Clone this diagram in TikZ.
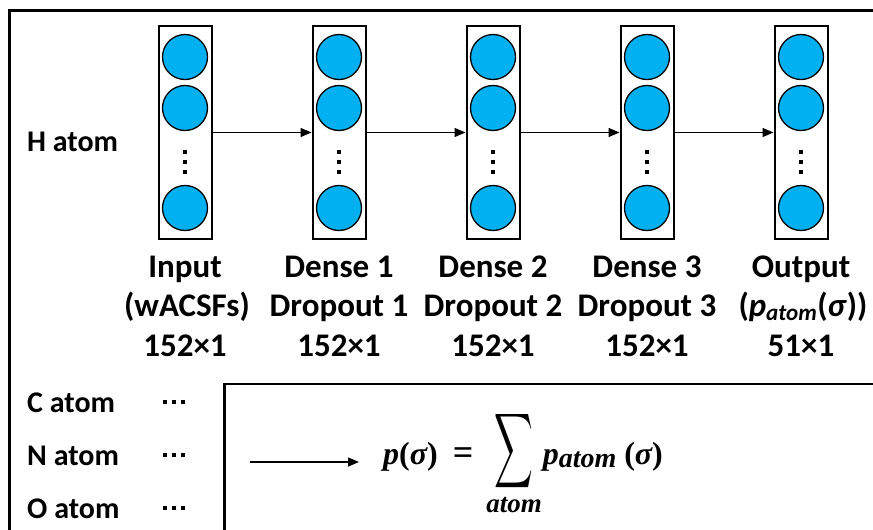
\RequirePackage{fix-cm}
\documentclass[tikz,border=0pt]{standalone}
\usepackage{fontspec}
\setmainfont{Carlito}
\newfontfamily\formfont{Liberation Serif}
\usepackage{amsmath}
\usepackage{graphicx}
\usetikzlibrary{arrows.meta}
\definecolor{nnblue}{HTML}{00B0F0}
\newcommand{\fbi}[1]{{\formfont\bfseries\itshape #1}}
\newcommand{\fbu}[1]{{\formfont\bfseries #1}}
\newsavebox{\bigsumbox}
\begin{document}
\sbox{\bigsumbox}{\fontsize{30}{34}\selectfont\scalebox{1.08}[2.1]{$\displaystyle\sum$}}
\begin{tikzpicture}[x=1pt,y=-1pt,
  frame/.style={line width=2.4pt},
  layerbox/.style={draw, line width=2pt, minimum width=53pt, minimum height=213pt, inner sep=0pt},
  neuron/.style={circle, draw, fill=nnblue, line width=1.3pt, minimum size=45pt, inner sep=0pt},
  vdot/.style={rectangle, fill=black, minimum size=3.4pt, inner sep=0pt},
  arr/.style={-{Triangle[length=11pt,width=9pt]}, line width=1.5pt},
  lbl/.style={font=\fontsize{33}{38}\selectfont\bfseries, anchor=base, inner sep=0pt},
  atomlbl/.style={font=\fontsize{30}{36}\selectfont\bfseries, anchor=base west, inner sep=0pt}]
\useasboundingbox (0,0) rectangle (873,530);
% frames
\draw[frame] (9.5,530) -- (9.5,10.5) -- (873,10.5);
\draw[frame] (224.5,530) -- (224.5,384) -- (873,384);
% layers
\foreach \i/\x in {1/185,2/339,3/493,4/647,5/801} {
  \node[layerbox] (box\i) at (\x,132.5) {};
  \node[neuron] (n\i-a) at (\x,57) {};
  \node[neuron] (n\i-b) at (\x,108) {};
  \node[neuron] (n\i-c) at (\x,208) {};
  \node[vdot] (d\i-a) at (\x,152) {};
  \node[vdot] (d\i-b) at (\x,162) {};
  \node[vdot] (d\i-c) at (\x,172) {};
}
\draw[arr] (box1.east) -- (box2.west);
\draw[arr] (box2.east) -- (box3.west);
\draw[arr] (box3.east) -- (box4.west);
\draw[arr] (box4.east) -- (box5.west);
% labels
\node[atomlbl] (hatom) at (27,151) {H atom};
\node[lbl] (l1a) at (185,277) {Input};
\node[lbl] (l1b) at (187,316) {(wACSFs)};
\node[lbl] (l1c) at (185,356) {152×1};
\node[lbl] (l2a) at (339,277) {Dense 1};
\node[lbl] (l2b) at (339,316) {Dropout 1};
\node[lbl] (l2c) at (339,356) {152×1};
\node[lbl] (l3a) at (493,277) {Dense 2};
\node[lbl] (l3b) at (493,316) {Dropout 2};
\node[lbl] (l3c) at (493,356) {152×1};
\node[lbl] (l4a) at (647,277) {Dense 3};
\node[lbl] (l4b) at (647,316) {Dropout 3};
\node[lbl] (l4c) at (647,356) {152×1};
\node[lbl] (l5a) at (801,277) {Output};
\node[lbl] (l5b) at (803,316) {(\textit{p}\textsubscript{\textit{atom}}(\textit{σ}))};
\node[lbl] (l5c) at (801,356) {51×1};
% other atoms
\node[atomlbl] (catom) at (27,412) {C atom};
\node[atomlbl] (natom) at (27,465) {N atom};
\node[atomlbl] (oatom) at (27,518) {O atom};
\foreach \n/\y in {c/402,n/455,o/508} {
  \node[vdot] (\n dt1) at (165,\y) {};
  \node[vdot] (\n dt2) at (174,\y) {};
  \node[vdot] (\n dt3) at (183,\y) {};
}
% sum
\coordinate (sumstart) at (250,462);
\coordinate (sumend) at (359,462);
\draw[arr] (sumstart) -- (sumend);
\node[anchor=base west, font=\fontsize{32}{36}\selectfont, inner sep=0pt] (formula) at (383,464)
  {\fbi{p}\fbu{(}\fbi{σ}\fbu{)}\hspace{15pt}{\fontsize{36}{36}\selectfont\fbu{=}}\hspace{13pt}$\mathop{\raisebox{5pt}{$\vcenter{\hbox{\usebox{\bigsumbox}}}$}}\limits_{\text{\fontsize{27}{27}\selectfont\fbi{atom}}}$\hspace{1pt}\fbi{p}\raisebox{-3pt}{\fontsize{28}{28}\selectfont\fbi{atom}}\hspace{8pt}\fbu{(}\fbi{σ}\fbu{)}};
\end{tikzpicture}
\end{document}
